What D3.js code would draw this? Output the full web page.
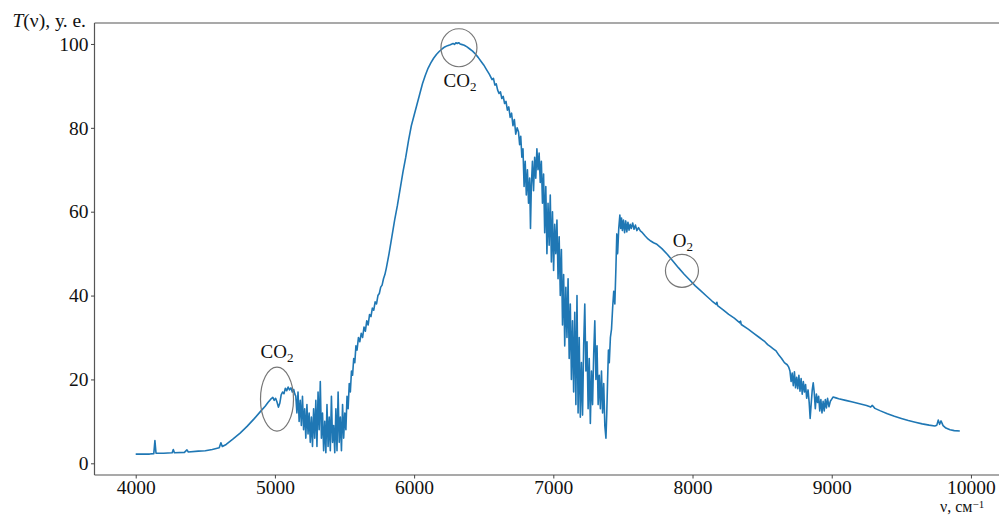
<!DOCTYPE html>
<html><head><meta charset="utf-8">
<script src="https://cdnjs.cloudflare.com/ajax/libs/d3/7.8.5/d3.min.js"></script>
<style>
html,body{margin:0;padding:0;background:#fff;}
svg{display:block;}
text{font-family:"Liberation Serif","DejaVu Serif",serif;fill:#111;}
</style></head>
<body><svg id="chart" width="999" height="515"></svg>
<script>
// Spectrum: [wavenumber (cm^-1), transmission (arb. units)]
const spectrum = [
[4000,2.2],[4050,2.2],[4100,2.2],[4130,2.3],[4138,5.4],[4146,2.4],[4200,2.4],[4262,2.5],[4270,3.3],[4278,2.5],
[4350,2.6],[4368,3.2],[4378,2.7],[4450,2.9],[4500,3.0],[4550,3.3],[4600,3.7],[4612,4.9],[4622,4.0],[4650,4.5],
[4700,5.8],[4750,7.2],[4800,8.8],[4850,10.6],[4900,12.5],[4930,13.6],[4950,14.5],[4970,15.3],[4985,15.7],[4995,15.0],
[5005,15.5],[5015,14.6],[5025,13.4],[5035,14.3],[5045,16.3],[5055,17.0],[5065,16.6],[5075,17.9],[5085,17.3],[5095,18.2],
[5105,17.5],[5115,18.0],[5125,17.0],[5135,17.6],[5143,16.5],
[5150,16],[5158,12],[5166,17],[5174,10],[5182,15],[5190,9],[5198,16],[5206,8],[5214,13],[5222,6],
[5230,14],[5238,7],[5246,12],[5254,5],[5262,11],[5270,4],[5278,13],[5286,6],[5294,15],[5302,4],
[5310,17],[5318,8],[5326,19.5],[5334,6],[5342,12],[5350,3],[5358,10],[5366,2.5],[5374,14],[5382,4],
[5390,11],[5398,3],[5406,16],[5414,5],[5422,9],[5430,2.5],[5438,13],[5446,3],[5454,17],[5462,5],
[5470,11],[5478,3],[5486,14],[5494,6],[5502,12],[5510,8],[5518,16],[5526,13],[5534,19],[5542,17],
[5550,22],[5558,21],[5566,25],[5574,24],[5582,28],[5590,27],[5600,30],
[5610,29],[5620,31],[5630,30],[5640,32.5],[5650,31.5],[5660,34],[5670,33],[5680,35.5],[5690,35],[5700,37],
[5710,36.5],[5720,38.5],[5730,38],[5740,40],[5750,40.5],[5760,42],[5770,42.5],[5780,44],[5790,45],[5800,46.5],
[5820,50],[5840,54],[5860,58],[5880,61.5],[5900,65.5],[5920,69.5],[5940,73],[5960,77],[5980,80.5],[6000,83],
[6020,85.5],[6040,88],[6060,90.5],[6080,92.5],[6100,94.2],[6120,95.5],[6140,96.6],[6160,97.5],[6180,98.2],[6200,98.8],
[6220,99.3],[6240,99.6],[6260,99.8],[6280,100.1],[6290,99.9],[6300,100.3],[6310,100.1],[6320,100.3],[6330,100.0],[6340,99.9],
[6360,99.7],[6380,99.3],[6400,98.8],[6420,98.3],[6440,97.6],[6460,96.8],[6480,95.9],[6500,95.0],[6520,93.9],[6540,92.8],
[6560,91.5],[6570,91.8],[6580,90.2],[6590,90.5],[6600,89.0],[6610,88.2],[6620,88.6],[6630,87],[6640,87.5],[6650,85.8],
[6660,86.3],[6670,84.2],[6680,85],[6690,82.5],[6700,83.5],[6710,80.5],[6720,82],[6730,78.5],[6740,80],
[6750,79],[6758,76],[6766,78],[6774,73],[6782,75],[6790,66],[6798,72],[6806,64],[6814,70],[6822,62],
[6830,68],[6836,56],[6842,66],[6850,72],[6858,65],[6866,73],[6874,68],[6882,75],[6890,70],[6898,74],
[6906,67],[6914,72],[6922,62],[6930,69],[6938,55],[6946,66],[6954,50],[6962,62],[6970,52],[6978,64],
[6986,48],[6994,60],[7002,46],[7010,57],[7018,50],[7026,58],[7034,44],[7042,54],[7050,40],[7058,51],
[7066,33],[7074,45],[7082,28],[7090,42],[7098,30],[7106,44],[7114,25],[7122,38],[7130,20],[7138,34],
[7146,17],[7154,36],[7162,14],[7170,40],[7178,12],[7186,30],[7194,11],[7202,24],[7210,11.5],[7218,28],
[7226,38],[7234,22],[7242,29],[7250,13],[7258,25],[7266,9.5],[7274,22],[7282,14],[7290,26],[7298,34],
[7306,20],[7314,28],[7322,14],[7330,21],[7338,13],[7346,22],[7354,12],[7362,19],[7370,9],[7378,6],
[7384,12],[7390,20],[7396,27],[7402,24],[7410,30],[7418,32],[7426,37],[7434,41],[7442,38],[7450,47],
[7456,54.7],[7462,50],[7470,56],[7478,59.2],[7484,56],[7490,58.5],[7496,55.5],[7504,58],[7512,55],[7520,57.8],
[7528,55.2],[7536,57.5],[7544,55.6],[7552,57],[7560,56],[7570,57.3],[7580,55.8],[7590,56.8],[7600,55.5],[7612,56.2],
[7625,55.4],[7640,55],[7660,54.2],[7680,53.5],[7700,53],[7720,52.6],[7740,52.3],[7780,51.2],[7820,49.8],[7860,48.2],
[7900,46.6],[7940,45.1],[7980,43.7],[8020,42.3],[8060,41.1],[8100,39.9],[8140,38.7],[8170,37.9],[8175,38.4],[8180,37.6],
[8220,36.6],[8260,35.5],[8300,34.6],[8340,33.5],[8345,33.9],[8350,33.1],[8400,32.0],[8440,31.0],[8480,30.0],[8500,29.5],
[8520,29.0],[8540,28.3],[8560,27.8],[8580,27.3],[8600,26.8],[8620,25.8],[8640,25.0],[8660,24.0],[8680,23.5],
[8690,23],[8700,22],[8708,19.5],[8716,21.5],[8724,18.5],[8732,21.8],[8740,18],[8748,20.5],[8756,17.8],[8764,21],
[8772,17.2],[8780,20.2],[8788,16.5],[8796,19.5],[8804,17],[8812,18.8],[8820,15.5],[8830,17.5],[8838,14.5],[8845,10.7],
[8852,14],[8860,17.5],[8867,19.2],[8874,17],[8882,13],[8890,16.5],[8898,14.5],[8906,16],[8914,12.5],[8922,15.2],
[8930,12],[8938,14.8],[8946,12.5],[8954,15.2],[8962,13.2],[8970,15.5],[8980,13.5],[8990,14.8],[9000,15.3],[9010,15.8],
[9030,15.6],[9050,15.4],[9100,15.0],[9150,14.6],[9200,14.2],[9250,13.8],[9280,13.4],[9290,13.8],[9300,13.5],[9310,13.1],
[9350,12.5],[9400,11.8],[9450,11.2],[9500,10.7],[9550,10.2],[9600,9.8],[9650,9.4],[9700,9.1],[9740,8.9],[9755,9.1],
[9765,10.3],[9775,9.3],[9785,10.1],[9800,9.0],[9820,8.4],[9850,8.0],[9880,7.8],[9920,7.7]
];

const xTicks = [4000,5000,6000,7000,8000,9000,10000];
const yTicks = [0,20,40,60,80,100];

// Annotations: labelled circles on absorption features
const annoV     = [5015, 6322, 7924];
const annoT     = [15.3, 99.1, 45.9];
const annoBase  = ["CO", "CO", "O"];
const annoSub   = ["2", "2", "2"];

const FS = "19.5px";
const svg = d3.select("#chart");
const x = d3.scaleLinear().domain([3704, 10226]).range([94.5, 1002.4]);
const y = d3.scaleLinear().domain([-2.79, 105.0]).range([475, 23]);

// spines
const frame = svg.append("g").attr("stroke","#555").attr("stroke-width",1.2).attr("fill","none");
frame.append("line").attr("x1",94.5).attr("x2",94.5).attr("y1",23).attr("y2",475);
frame.append("line").attr("x1",94.5).attr("x2",999).attr("y1",23).attr("y2",23);
frame.append("line").attr("x1",94.5).attr("x2",999).attr("y1",475).attr("y2",475);

// x axis
const gx = svg.append("g").attr("transform","translate(0,475)")
  .call(d3.axisBottom(x).tickValues(xTicks).tickSize(3.5).tickPadding(1.5).tickFormat(d3.format("d")));
gx.select(".domain").remove();
gx.selectAll(".tick line").attr("stroke","#444");
gx.selectAll(".tick text").style("font-family","'Liberation Serif',serif").style("font-size",FS).attr("fill","#111");

// y axis
const gy = svg.append("g").attr("transform","translate(94.5,0)")
  .call(d3.axisLeft(y).tickValues(yTicks).tickSize(3.5).tickPadding(2.5).tickFormat(d3.format("d")));
gy.select(".domain").remove();
gy.selectAll(".tick line").attr("stroke","#444");
gy.selectAll(".tick text").style("font-family","'Liberation Serif',serif").style("font-size",FS).attr("fill","#111");

// line
const line = d3.line().x(d => x(d[0])).y(d => y(d[1]));
svg.append("path").datum(spectrum)
  .attr("fill","none").attr("stroke","#1f77b4").attr("stroke-width",1.6)
  .attr("stroke-linejoin","round").attr("d", line);

// annotations
const ellRx = [16.5, 18, 16.5], ellRy = [32, 19, 16.5];
const labDx = [0, 1, 1], labDy = [-41, 39, -24];
annoV.forEach((v,i) => {
  svg.append("ellipse").attr("cx", x(v)).attr("cy", y(annoT[i]))
    .attr("rx", ellRx[i]).attr("ry", ellRy[i])
    .attr("fill","none").attr("stroke","#777").attr("stroke-width",1.2);
  const t = svg.append("text").attr("x", x(v) + labDx[i]).attr("y", y(annoT[i]) + labDy[i])
    .attr("text-anchor","middle").style("font-size","19px");
  t.append("tspan").text(annoBase[i]);
  t.append("tspan").attr("dy", 4).style("font-size","13px").text(annoSub[i]);
});

// axis titles
const yt = svg.append("text").attr("x", 86).attr("y", 27).attr("text-anchor","end").style("font-size",FS);
yt.append("tspan").style("font-style","italic").text("T");
yt.append("tspan").text("(ν), у. е.");

const xt = svg.append("text").attr("x", 940).attr("y", 511.5).style("font-size","16px");
xt.append("tspan").text("ν, см");
xt.append("tspan").attr("dy", -4).style("font-size","11px").text("−1");
</script>
</body></html>
